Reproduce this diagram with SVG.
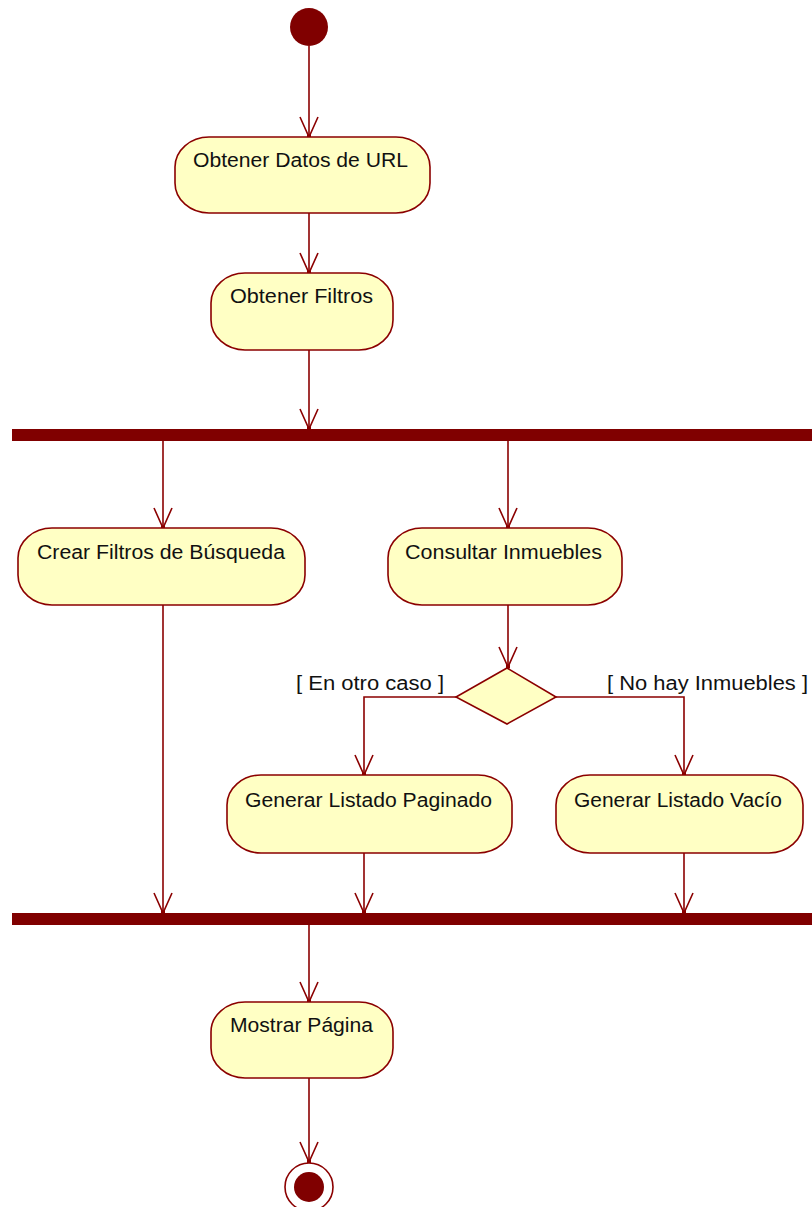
<svg xmlns="http://www.w3.org/2000/svg" width="812" height="1207" viewBox="0 0 812 1207">
  <style>
    .act { fill: #FFFFC4; stroke: #8B0000; stroke-width: 1.6; }
    .lbl { font-family: "Liberation Sans", Arial, sans-serif; font-size: 20px; fill: #111; }
    .flow { fill: none; stroke: #8B0000; stroke-width: 1.6; }
    .bar { fill: #800000; }
    .dec { fill: #FFFFC4; stroke: #8B0000; stroke-width: 1.6; }
  </style>
  <defs>
    <!-- open V arrowhead with a small dot at the tip -->
    <marker id="open" markerUnits="userSpaceOnUse" markerWidth="26" markerHeight="26" viewBox="-23 -13 26 26" refX="0" refY="0" orient="auto">
      <path d="M -20 -9 L 0 0 L -20 9" fill="none" stroke="#8B0000" stroke-width="1.6"/>
      <rect x="-2.5" y="-2" width="4" height="4" fill="#8B0000"/>
    </marker>
  </defs>

  <!-- connectors -->
  <g id="connectors">
    <path class="flow" d="M 309 46 V 137" marker-end="url(#open)"/>
    <path class="flow" d="M 309 213 V 273" marker-end="url(#open)"/>
    <path class="flow" d="M 309 350 V 429" marker-end="url(#open)"/>
    <path class="flow" d="M 163 441 V 528" marker-end="url(#open)"/>
    <path class="flow" d="M 508 441 V 528" marker-end="url(#open)"/>
    <path class="flow" d="M 508 605 V 667" marker-end="url(#open)"/>
    <path class="flow" d="M 456 697 H 364 V 775" marker-end="url(#open)"/>
    <path class="flow" d="M 556 697 H 684 V 775" marker-end="url(#open)"/>
    <path class="flow" d="M 163 605 V 913" marker-end="url(#open)"/>
    <path class="flow" d="M 364 853 V 913" marker-end="url(#open)"/>
    <path class="flow" d="M 684 853 V 913" marker-end="url(#open)"/>
    <path class="flow" d="M 309 925 V 1002" marker-end="url(#open)"/>
    <path class="flow" d="M 309 1078 V 1162" marker-end="url(#open)"/>
    <text class="lbl" x="296" y="690" textLength="148" lengthAdjust="spacingAndGlyphs">[ En otro caso ]</text>
    <text class="lbl" x="607" y="690" textLength="201" lengthAdjust="spacingAndGlyphs">[ No hay Inmuebles ]</text>
  </g>

  <!-- start -->
  <g id="start">
    <circle cx="309" cy="27" r="19" fill="#800000"/>
  </g>

  <g id="obtener-datos-url">
    <rect class="act" x="175" y="137" width="255" height="76" rx="34" ry="30"/>
    <text class="lbl" x="193" y="167" textLength="215" lengthAdjust="spacingAndGlyphs">Obtener Datos de URL</text>
  </g>

  <g id="obtener-filtros">
    <rect class="act" x="211" y="273" width="182" height="77" rx="34" ry="30"/>
    <text class="lbl" x="230" y="303" textLength="143" lengthAdjust="spacingAndGlyphs">Obtener Filtros</text>
  </g>

  <g id="fork">
    <rect class="bar" x="12" y="429" width="800" height="12"/>
  </g>

  <g id="crear-filtros">
    <rect class="act" x="18" y="528" width="287" height="77" rx="34" ry="30"/>
    <text class="lbl" x="37" y="559" textLength="248" lengthAdjust="spacingAndGlyphs">Crear Filtros de Búsqueda</text>
  </g>

  <g id="consultar-inmuebles">
    <rect class="act" x="388" y="528" width="234" height="77" rx="34" ry="30"/>
    <text class="lbl" x="405" y="559" textLength="197" lengthAdjust="spacingAndGlyphs">Consultar Inmuebles</text>
  </g>

  <g id="decision">
    <polygon class="dec" points="507,668 556,697 507,724 456,697"/>
  </g>

  <g id="listado-paginado">
    <rect class="act" x="227" y="775" width="285" height="78" rx="34" ry="30"/>
    <text class="lbl" x="245" y="807" textLength="247" lengthAdjust="spacingAndGlyphs">Generar Listado Paginado</text>
  </g>

  <g id="listado-vacio">
    <rect class="act" x="556" y="775" width="247" height="78" rx="34" ry="30"/>
    <text class="lbl" x="574" y="807" textLength="208" lengthAdjust="spacingAndGlyphs">Generar Listado Vacío</text>
  </g>

  <g id="join">
    <rect class="bar" x="12" y="913" width="800" height="12"/>
  </g>

  <g id="mostrar-pagina">
    <rect class="act" x="211" y="1002" width="182" height="76" rx="34" ry="30"/>
    <text class="lbl" x="230" y="1032" textLength="143" lengthAdjust="spacingAndGlyphs">Mostrar Página</text>
  </g>

  <g id="end">
    <circle cx="309" cy="1187" r="24" fill="#fff" stroke="#8B0000" stroke-width="1.6"/>
    <circle cx="309" cy="1187" r="15" fill="#800000"/>
  </g>
</svg>
